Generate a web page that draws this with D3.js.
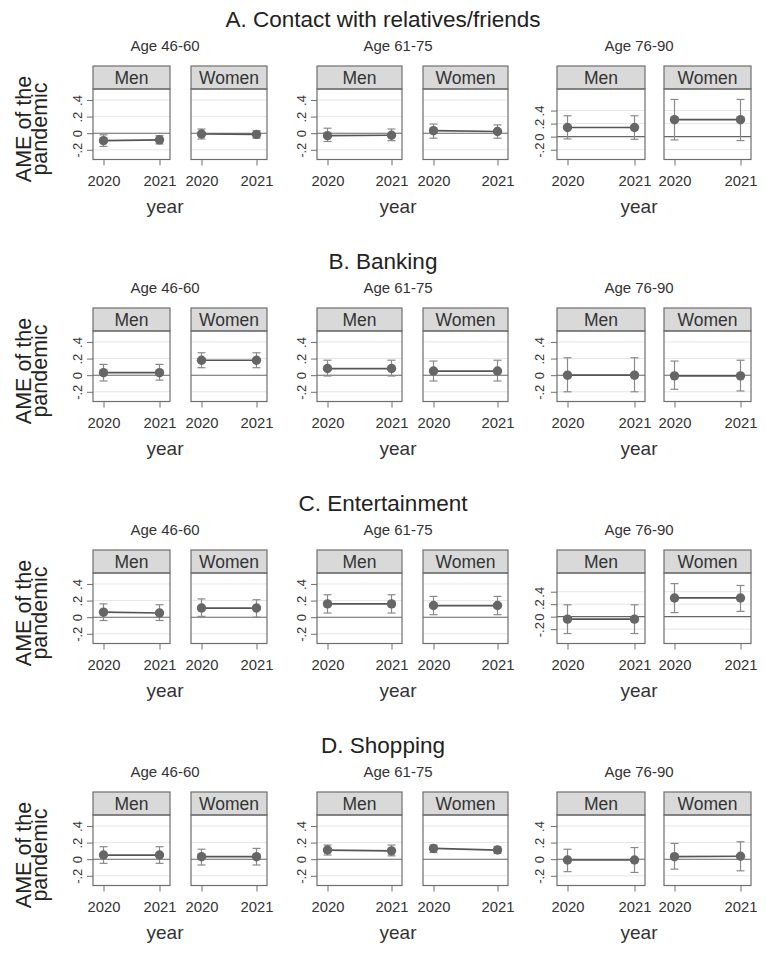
<!DOCTYPE html>
<html>
<head>
<meta charset="utf-8">
<script src="https://cdn.jsdelivr.net/npm/d3@7"></script>
<style>
  html, body { margin: 0; padding: 0; background: #fff; }
  svg { display: block; font-family: "Liberation Sans", Arial, sans-serif; }
</style>
</head>
<body>
<div id="chart"></div>
<script>
// AME of the pandemic by activity, age group, sex and year (b = estimate, lo/hi = 95% CI)
const titles = ['A. Contact with relatives/friends', 'B. Banking', 'C. Entertainment', 'D. Shopping'];
const ageGroups = ['Age 46-60', 'Age 61-75', 'Age 76-90'];
const sexes = ['Men', 'Women'];
const years = [2020, 2021];
const yTicks = [-0.2, 0, 0.2, 0.4];
const yTickLabels = ['-.2', '0', '.2', '.4'];

const contact = [
  { age: 'Age 46-60', sex: 'Men', year: 2020, b: -0.09, lo: -0.16, hi: -0.02 },
  { age: 'Age 46-60', sex: 'Men', year: 2021, b: -0.08, lo: -0.13, hi: -0.03 },
  { age: 'Age 46-60', sex: 'Women', year: 2020, b: -0.01, lo: -0.07, hi: 0.05 },
  { age: 'Age 46-60', sex: 'Women', year: 2021, b: -0.015, lo: -0.06, hi: 0.03 },
  { age: 'Age 61-75', sex: 'Men', year: 2020, b: -0.03, lo: -0.10, hi: 0.06 },
  { age: 'Age 61-75', sex: 'Men', year: 2021, b: -0.025, lo: -0.09, hi: 0.05 },
  { age: 'Age 61-75', sex: 'Women', year: 2020, b: 0.03, lo: -0.06, hi: 0.11 },
  { age: 'Age 61-75', sex: 'Women', year: 2021, b: 0.02, lo: -0.06, hi: 0.10 },
  { age: 'Age 76-90', sex: 'Men', year: 2020, b: 0.14, lo: -0.035, hi: 0.32 },
  { age: 'Age 76-90', sex: 'Men', year: 2021, b: 0.14, lo: -0.04, hi: 0.32 },
  { age: 'Age 76-90', sex: 'Women', year: 2020, b: 0.26, lo: -0.05, hi: 0.57 },
  { age: 'Age 76-90', sex: 'Women', year: 2021, b: 0.26, lo: -0.06, hi: 0.57 }
];

const banking = [
  { age: 'Age 46-60', sex: 'Men', year: 2020, b: 0.03, lo: -0.07, hi: 0.13 },
  { age: 'Age 46-60', sex: 'Men', year: 2021, b: 0.03, lo: -0.06, hi: 0.13 },
  { age: 'Age 46-60', sex: 'Women', year: 2020, b: 0.18, lo: 0.09, hi: 0.27 },
  { age: 'Age 46-60', sex: 'Women', year: 2021, b: 0.18, lo: 0.09, hi: 0.27 },
  { age: 'Age 61-75', sex: 'Men', year: 2020, b: 0.08, lo: -0.01, hi: 0.18 },
  { age: 'Age 61-75', sex: 'Men', year: 2021, b: 0.08, lo: -0.01, hi: 0.18 },
  { age: 'Age 61-75', sex: 'Women', year: 2020, b: 0.05, lo: -0.07, hi: 0.17 },
  { age: 'Age 61-75', sex: 'Women', year: 2021, b: 0.05, lo: -0.07, hi: 0.18 },
  { age: 'Age 76-90', sex: 'Men', year: 2020, b: 0.0, lo: -0.20, hi: 0.21 },
  { age: 'Age 76-90', sex: 'Men', year: 2021, b: 0.0, lo: -0.20, hi: 0.21 },
  { age: 'Age 76-90', sex: 'Women', year: 2020, b: -0.008, lo: -0.17, hi: 0.17 },
  { age: 'Age 76-90', sex: 'Women', year: 2021, b: -0.008, lo: -0.19, hi: 0.18 }
];

const entertainment = [
  { age: 'Age 46-60', sex: 'Men', year: 2020, b: 0.06, lo: -0.04, hi: 0.16 },
  { age: 'Age 46-60', sex: 'Men', year: 2021, b: 0.05, lo: -0.04, hi: 0.15 },
  { age: 'Age 46-60', sex: 'Women', year: 2020, b: 0.11, lo: 0.01, hi: 0.22 },
  { age: 'Age 46-60', sex: 'Women', year: 2021, b: 0.11, lo: 0.0, hi: 0.21 },
  { age: 'Age 61-75', sex: 'Men', year: 2020, b: 0.16, lo: 0.05, hi: 0.27 },
  { age: 'Age 61-75', sex: 'Men', year: 2021, b: 0.16, lo: 0.05, hi: 0.27 },
  { age: 'Age 61-75', sex: 'Women', year: 2020, b: 0.14, lo: 0.03, hi: 0.25 },
  { age: 'Age 61-75', sex: 'Women', year: 2021, b: 0.14, lo: 0.03, hi: 0.25 },
  { age: 'Age 76-90', sex: 'Men', year: 2020, b: -0.04, lo: -0.27, hi: 0.19 },
  { age: 'Age 76-90', sex: 'Men', year: 2021, b: -0.04, lo: -0.27, hi: 0.19 },
  { age: 'Age 76-90', sex: 'Women', year: 2020, b: 0.30, lo: 0.065, hi: 0.53 },
  { age: 'Age 76-90', sex: 'Women', year: 2021, b: 0.30, lo: 0.085, hi: 0.50 }
];

const shopping = [
  { age: 'Age 46-60', sex: 'Men', year: 2020, b: 0.05, lo: -0.05, hi: 0.15 },
  { age: 'Age 46-60', sex: 'Men', year: 2021, b: 0.05, lo: -0.05, hi: 0.15 },
  { age: 'Age 46-60', sex: 'Women', year: 2020, b: 0.03, lo: -0.07, hi: 0.12 },
  { age: 'Age 46-60', sex: 'Women', year: 2021, b: 0.03, lo: -0.07, hi: 0.13 },
  { age: 'Age 61-75', sex: 'Men', year: 2020, b: 0.11, lo: 0.05, hi: 0.17 },
  { age: 'Age 61-75', sex: 'Men', year: 2021, b: 0.10, lo: 0.04, hi: 0.17 },
  { age: 'Age 61-75', sex: 'Women', year: 2020, b: 0.13, lo: 0.08, hi: 0.17 },
  { age: 'Age 61-75', sex: 'Women', year: 2021, b: 0.11, lo: 0.07, hi: 0.15 },
  { age: 'Age 76-90', sex: 'Men', year: 2020, b: -0.01, lo: -0.15, hi: 0.12 },
  { age: 'Age 76-90', sex: 'Men', year: 2021, b: -0.01, lo: -0.16, hi: 0.14 },
  { age: 'Age 76-90', sex: 'Women', year: 2020, b: 0.03, lo: -0.12, hi: 0.19 },
  { age: 'Age 76-90', sex: 'Women', year: 2021, b: 0.035, lo: -0.14, hi: 0.21 }
];

const rowsData = [contact, banking, entertainment, shopping];

// y-axis range of each age group's graph, per row
const yRanges = [
  [[-0.317, 0.532], [-0.317, 0.532], [-0.35, 0.73]],
  [[-0.317, 0.532], [-0.317, 0.532], [-0.317, 0.532]],
  [[-0.317, 0.532], [-0.317, 0.532], [-0.43, 0.70]],
  [[-0.317, 0.532], [-0.317, 0.532], [-0.317, 0.532]]
];

// layout
const W = 766, H = 955;
const rowStep = 242;
const stripTop = 66, plotTop = 89, plotBottom = 159.5;
const panelX = [
  [[93, 170], [191, 267]],
  [[317, 402], [423, 508]],
  [[557, 645], [664, 751]]
];
const groupCenter = [165, 398, 639];
const inset = 10.5;
const ink = '#333';
const frame = '#6e6e6e';

const svg = d3.select('#chart').append('svg')
  .attr('width', W).attr('height', H)
  .attr('viewBox', `0 0 ${W} ${H}`);

rowsData.forEach((rows, r) => {
  const g = svg.append('g').attr('transform', `translate(0,${r * rowStep})`);

  g.append('text')
    .attr('x', 383).attr('y', 27)
    .attr('text-anchor', 'middle')
    .attr('font-size', 22.5).attr('fill', '#222')
    .text(titles[r]);

  // y title
  [['AME of the', 31], ['pandemic', 47]].forEach(([t, bx]) => {
    g.append('text')
      .attr('transform', `translate(${bx},129) rotate(-90)`)
      .attr('text-anchor', 'middle')
      .attr('font-size', 21.5).attr('fill', '#222')
      .text(t);
  });

  ageGroups.forEach((age, a) => {
    g.append('text')
      .attr('x', groupCenter[a]).attr('y', 51)
      .attr('text-anchor', 'middle')
      .attr('font-size', 15).attr('fill', ink)
      .text(age);

    g.append('text')
      .attr('x', groupCenter[a]).attr('y', 213)
      .attr('text-anchor', 'middle')
      .attr('font-size', 19).attr('fill', ink)
      .text('year');

    const y = d3.scaleLinear().domain(yRanges[r][a]).range([plotBottom, plotTop]);

    sexes.forEach((sex, s) => {
      const [x0, x1] = panelX[a][s];
      const x = d3.scaleLinear().domain(d3.extent(years)).range([x0 + inset, x1 - inset]);
      const pts = rows.filter((d) => d.age === age && d.sex === sex);
      const p = g.append('g');

      // strip
      p.append('rect')
        .attr('x', x0).attr('y', stripTop)
        .attr('width', x1 - x0).attr('height', plotTop - stripTop)
        .attr('fill', '#d9d9d9').attr('stroke', frame).attr('stroke-width', 1.2);
      p.append('text')
        .attr('x', (x0 + x1) / 2).attr('y', stripTop + 17.5)
        .attr('text-anchor', 'middle')
        .attr('font-size', 17.5).attr('fill', ink)
        .text(sex);

      // grid + zero line
      p.selectAll('line.grid')
        .data(yTicks.filter((t) => t !== 0))
        .join('line')
        .attr('class', 'grid')
        .attr('x1', x0).attr('x2', x1)
        .attr('y1', (t) => y(t)).attr('y2', (t) => y(t))
        .attr('stroke', '#e6e6e6').attr('stroke-width', 1);
      p.append('line')
        .attr('x1', x0).attr('x2', x1)
        .attr('y1', y(0)).attr('y2', y(0))
        .attr('stroke', '#666').attr('stroke-width', 1.1);

      // confidence intervals
      const ci = p.selectAll('g.ci').data(pts).join('g').attr('class', 'ci')
        .attr('stroke', '#8a8a8a').attr('stroke-width', 1.2);
      ci.append('line')
        .attr('x1', (d) => x(d.year)).attr('x2', (d) => x(d.year))
        .attr('y1', (d) => y(d.lo)).attr('y2', (d) => y(d.hi));
      ci.append('line')
        .attr('x1', (d) => x(d.year) - 4).attr('x2', (d) => x(d.year) + 4)
        .attr('y1', (d) => y(d.lo)).attr('y2', (d) => y(d.lo));
      ci.append('line')
        .attr('x1', (d) => x(d.year) - 4).attr('x2', (d) => x(d.year) + 4)
        .attr('y1', (d) => y(d.hi)).attr('y2', (d) => y(d.hi));

      p.append('path')
        .datum(pts)
        .attr('fill', 'none').attr('stroke', '#555').attr('stroke-width', 1.7)
        .attr('d', d3.line().x((d) => x(d.year)).y((d) => y(d.b)));

      p.selectAll('circle').data(pts).join('circle')
        .attr('cx', (d) => x(d.year)).attr('cy', (d) => y(d.b))
        .attr('r', 4.7).attr('fill', '#666');

      // plot frame
      p.append('rect')
        .attr('x', x0).attr('y', plotTop)
        .attr('width', x1 - x0).attr('height', plotBottom - plotTop)
        .attr('fill', 'none').attr('stroke', frame).attr('stroke-width', 1.2);

      // x axis
      const xa = p.append('g')
        .attr('transform', `translate(0,${plotBottom})`)
        .call(d3.axisBottom(x).tickValues(years).tickFormat(d3.format('d')).tickSize(6).tickSizeOuter(0));
      xa.select('.domain').remove();
      xa.selectAll('line').attr('stroke', frame);
      xa.selectAll('text')
        .attr('y', 26.5).attr('dy', null)
        .attr('font-size', 14.8).attr('font-family', null).attr('fill', ink);

      // y axis on the first panel of each age group
      if (s === 0) {
        const ya = p.append('g')
          .attr('transform', `translate(${x0},0)`)
          .call(d3.axisLeft(y).tickValues(yTicks).tickFormat((t, i) => yTickLabels[i]).tickSize(6).tickSizeOuter(0));
        ya.select('.domain').remove();
        ya.selectAll('line').attr('stroke', frame);
        ya.selectAll('text')
          .attr('transform', 'rotate(-90)')
          .attr('x', 0).attr('y', a === 2 ? -13 : -11).attr('dy', null)
          .attr('text-anchor', 'middle')
          .attr('font-size', 13).attr('font-family', null).attr('fill', ink);
      }
    });
  });
});
</script>
</body>
</html>
